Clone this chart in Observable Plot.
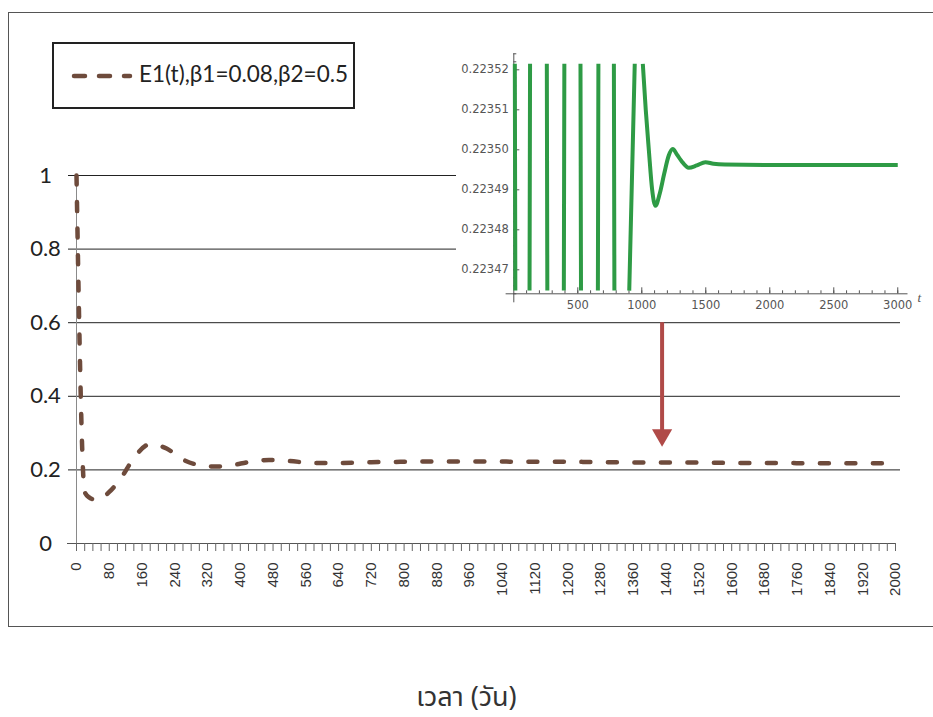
<!DOCTYPE html>
<html>
<head>
<meta charset="utf-8">
<script src="https://cdn.jsdelivr.net/npm/d3@7"></script>
<script src="https://cdn.jsdelivr.net/npm/@observablehq/plot@0.6"></script>
<style>
  body { margin: 0; background: #fff; }
  #page { position: relative; width: 933px; height: 717px; overflow: hidden; background: #fff; }
  #frame { position: absolute; left: 8px; top: 12px; width: 960px; height: 615px; border: 1.5px solid #555; box-sizing: border-box; }
  #main { position: absolute; left: 0; top: 0; }
  #inset { position: absolute; left: 456px; top: 36px; }
  #legend { position: absolute; left: 52px; top: 42px; width: 303px; height: 67px; border: 2px solid #222; box-sizing: border-box; background: #fff; }
  #legend svg { position: absolute; left: 16px; top: 26px; }
  #legend span { position: absolute; left: 85px; top: 16px; font: 22.5px Lato, "Open Sans", sans-serif; color: #222; white-space: nowrap; line-height: 28px; }
  #xtitle { position: absolute; left: 0; top: 681px; width: 933px; text-align: center; font: 27px "Noto Sans Thai", "Noto Sans", "DejaVu Sans", sans-serif; color: #333; line-height: 34px; }
</style>
</head>
<body>
<div id="page">
  <div id="frame"></div>
  <div id="main"></div>
  <div id="inset"></div>
  <div id="legend"></div>
  <div id="xtitle"></div>
</div>
<script>
// E1(t) with beta1 = 0.08, beta2 = 0.5 over 0..2000 days
const days = [0, 20, 30, 50, 80, 110, 140, 180, 220, 260, 300, 340, 380, 420, 470, 520, 580, 640, 720, 800, 900, 1000, 1100, 1200, 1300, 1400, 1500, 1600, 1700, 1800, 1900, 2000];
const e1 = [1.0, 0.14, 0.126, 0.118, 0.14, 0.18, 0.232, 0.27, 0.258, 0.228, 0.213, 0.209, 0.213, 0.221, 0.227, 0.224, 0.219, 0.219, 0.221, 0.222, 0.223, 0.223, 0.222, 0.222, 0.221, 0.22, 0.22, 0.219, 0.219, 0.218, 0.218, 0.218];

// axis ticks and labels of the main chart
const yTicks = [0, 0.2, 0.4, 0.6, 0.8, 1];
const yTickLabels = ["0", "0.2", "0.4", "0.6", "0.8", "1"];
const yGrid = [0.2, 0.4, 0.6, 0.8, 1];
const xMinorTicks = d3.range(0, 2001, 20);
const xLabelTicks = d3.range(0, 2001, 80);

// arrow pointing from the zoomed view to the curve
const arrowT = [1430];
const arrowTop = [0.6];
const arrowTip = [0.265];

// zoomed view of the same solution over 0..3000 (null = outside the visible band)
const insetT = [8, 12, 12, 123, 127, 127, 258, 262, 262, 391, 395, 395, 521, 525, 525, 657, 661, 661, 782, 786, 786, 902, 945, 945, 1008, 1031, 1055, 1081, 1107, 1140, 1175, 1210, 1242, 1275, 1310, 1367, 1430, 1497, 1560, 1650, 2000, 3000];
const insetV = [0.2235215, 0.2234648, null, 0.2234648, 0.2235215, null, 0.2235215, 0.2234648, null, 0.2234648, 0.2235215, null, 0.2235215, 0.2234648, null, 0.2234648, 0.2235215, null, 0.2235215, 0.2234648, null, 0.2234648, 0.2235215, null, 0.2235215, 0.22351, 0.2235, 0.22349, 0.223486, 0.223489, 0.223494, 0.2234985, 0.2235002, 0.2234988, 0.2234972, 0.2234955, 0.2234961, 0.2234969, 0.2234965, 0.2234963, 0.2234962, 0.2234962];
const insetYDomain = [0.223464, 0.223524];
const insetTDomain = [0, 3080];
const insetAxisExtent = [-60, 3080];
const insetTTicks = [500, 1000, 1500, 2000, 2500, 3000];
const insetTMinor = d3.range(100, 3001, 100);
const insetYTicks = [0.22347, 0.22348, 0.22349, 0.2235, 0.22351, 0.22352];
const insetYMinor = d3.range(0, 31).map(i => 0.223464 + i * 0.000002);

const seriesLabel = "E1(t),β1=0.08,β2=0.5";
const xTitle = "เวลา (วัน)";

const curveColor = "#6e4b3c";
const arrowColor = "#b04a48";
const greenColor = "#2e9b45";

const curveRows = days.map((t, i) => ({t, e: e1[i]}));
const arrowRows = arrowT.map((t, i) => ({t, top: arrowTop[i], tip: arrowTip[i]}));
const insetRows = insetT.map((t, i) => ({t, v: insetV[i]}));
const yLabelOf = new Map(yTicks.map((v, i) => [v, yTickLabels[i]]));

const main = Plot.plot({
  width: 933,
  height: 640,
  marginTop: 175,
  marginBottom: 97,
  marginLeft: 76,
  marginRight: 38,
  x: {domain: [0, 2000], label: null},
  y: {domain: [0, 1], label: null},
  style: {background: "transparent", overflow: "visible"},
  marks: [
    Plot.ruleY(yGrid, {stroke: "#222", strokeWidth: 1, insetLeft: -8, insetRight: -5}),
    Plot.ruleX([0], {stroke: "#8a8a8a", strokeWidth: 1}),
    Plot.ruleY([0], {stroke: "#555", strokeWidth: 1, insetLeft: -9}),
    Plot.axisX({ticks: xMinorTicks, tickSize: 8, tickFormat: () => "", stroke: "#666", label: null}),
    Plot.axisX({ticks: xLabelTicks, tickSize: 0, tickPadding: 19, tickRotate: -90, fontSize: 15,
      fontFamily: "Liberation Sans, Arial, sans-serif", fill: "#333", tickFormat: d => String(d), label: null}),
    Plot.axisY({ticks: yTicks, tickSize: 0, tickPadding: 31, textAnchor: "middle", fontSize: 22,
      fontFamily: "Lato, sans-serif", fill: "#222", tickFormat: d => yLabelOf.get(d), label: null}),
    Plot.line(curveRows, {x: "t", y: "e", curve: "monotone-x", stroke: curveColor, strokeWidth: 4.5,
      strokeDasharray: "9 17.5", strokeLinecap: "round"}),
    Plot.ruleX(arrowRows, {x: "t", y1: "top", y2: "tip", stroke: arrowColor, strokeWidth: 4, insetBottom: 12}),
    Plot.dot(arrowRows, {x: "t", y: "tip", symbol: "triangle", rotate: 180, r: 7.5, fill: arrowColor, stroke: null, dy: -11})
  ]
});
document.getElementById("main").appendChild(main);

const fmt5 = d3.format(".5f");
const insetFont = "DejaVu Sans, Verdana, sans-serif";
const inset = Plot.plot({
  width: 477,
  height: 284,
  marginLeft: 57.3,
  marginRight: 25.5,
  marginTop: 17.3,
  marginBottom: 26.7,
  x: {domain: insetTDomain, label: null},
  y: {domain: insetYDomain, label: null},
  style: {background: "#fff", overflow: "visible"},
  marks: [
    Plot.ruleY([insetYDomain[0]], {x1: insetAxisExtent[0], x2: insetAxisExtent[1], stroke: "#555", strokeWidth: 1}),
    Plot.ruleX([0], {stroke: "#555", strokeWidth: 1, insetBottom: -9}),
    Plot.axisX({ticks: insetTMinor, tickSize: 3, dy: -3, tickFormat: () => "", stroke: "#555", label: null}),
    Plot.axisX({ticks: insetTTicks, tickSize: 6, dy: -6, tickFormat: () => "", stroke: "#555", label: null}),
    Plot.axisX({ticks: insetTTicks, tickSize: 0, tickPadding: 7, fontSize: 11.5,
      fontFamily: insetFont, fill: "#555", tickFormat: d => String(d), label: null}),
    Plot.axisY({ticks: insetYMinor, tickSize: 3, dx: 3, tickFormat: () => "", stroke: "#555", label: null}),
    Plot.axisY({ticks: insetYTicks, tickSize: 6, dx: 6, tickFormat: () => "", stroke: "#555", label: null}),
    Plot.axisY({ticks: insetYTicks, tickSize: 0, tickPadding: 5, fontSize: 11.5,
      fontFamily: insetFont, fill: "#555", tickFormat: fmt5, label: null}),
    Plot.text(["t"], {frameAnchor: "bottom-right", textAnchor: "start", lineAnchor: "middle", dx: 9.5, dy: 3.7,
      fontStyle: "italic", fontFamily: "Liberation Serif, serif", fontSize: 13, fill: "#555"}),
    Plot.line(insetRows, {x: "t", y: "v", curve: "monotone-x", stroke: greenColor, strokeWidth: 4,
      strokeLinecap: "butt", strokeLinejoin: "round"})
  ]
});
document.getElementById("inset").appendChild(inset);

// legend: dashed swatch and series label
const legend = document.getElementById("legend");
legend.innerHTML =
  `<svg width="70" height="12"><line x1="4" y1="6" x2="60" y2="6" stroke="${curveColor}" stroke-width="4.5" stroke-dasharray="11 14" stroke-linecap="round"/></svg>`;
const legendText = document.createElement("span");
legendText.textContent = seriesLabel;
legend.appendChild(legendText);

document.getElementById("xtitle").textContent = xTitle;
</script>
</body>
</html>
